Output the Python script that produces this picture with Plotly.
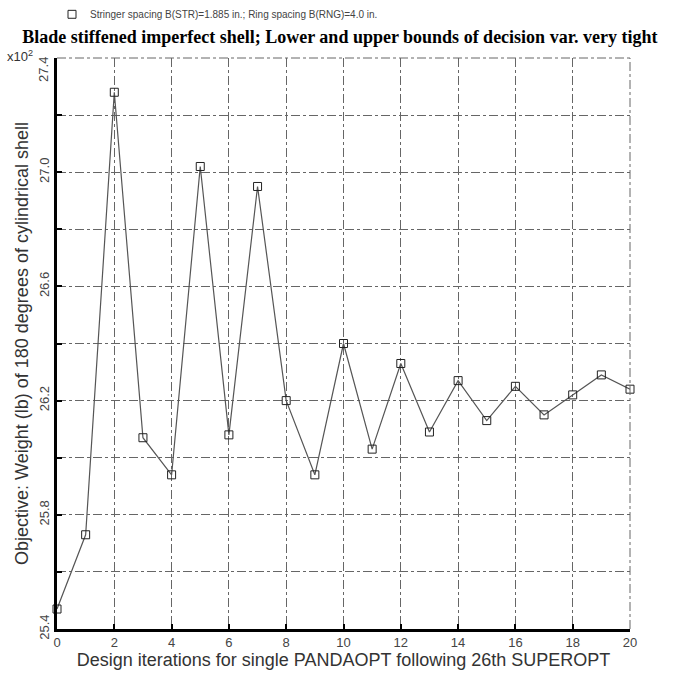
import plotly.graph_objects as go

iterations = list(range(21))
weights = [25.47, 25.73, 27.28, 26.07, 25.94, 27.02, 26.08, 26.95, 26.20, 25.94,
           26.40, 26.03, 26.33, 26.09, 26.27, 26.13, 26.25, 26.15, 26.22, 26.29, 26.24]
series_name = "Stringer spacing B(STR)=1.885 in.; Ring spacing B(RNG)=4.0 in."
title_text = "Blade stiffened imperfect shell; Lower and upper bounds of decision var. very tight"
x_title = "Design iterations for single PANDAOPT following 26th SUPEROPT"
y_title = "Objective: Weight (lb) of 180 degrees of cylindrical shell"
y_tickvals = [25.4, 25.6, 25.8, 26.0, 26.2, 26.4, 26.6, 26.8, 27.0, 27.2, 27.4]
y_ticktext = ["25.4", "", "25.8", "", "26.2", "", "26.6", "", "27.0", "", ""]
y_top_label = "27.4"
x_tickvals = [0, 2, 4, 6, 8, 10, 12, 14, 16, 18, 20]

fig = go.Figure()
fig.add_trace(go.Scatter(
    x=iterations, y=weights, mode="lines+markers", name=series_name, showlegend=False,
    line=dict(color="#555555", width=1.2), cliponaxis=False,
    marker=dict(symbol="square-open", size=8, color="#222222", line=dict(width=1)),
))

fig.update_layout(
    width=673, height=677,
    margin=dict(l=57, r=43, t=58, b=44),
    paper_bgcolor="white", plot_bgcolor="white",
    title=dict(text="<b>" + title_text + "</b>", x=0.505, xanchor="center",
               y=1 - 37 / 677, yanchor="middle",
               font=dict(family="Liberation Serif", size=18, color="black")),
    showlegend=False,
    font=dict(family="Liberation Sans", color="#333333"),
    shapes=[dict(type="line", xref="paper", yref="paper", x0=0, x1=1, y0=1, y1=1,
                 line=dict(color="#666666", width=1, dash="dashdot")),
            dict(type="line", xref="paper", yref="paper", x0=1, x1=1, y0=0, y1=1,
                 line=dict(color="#666666", width=1, dash="dashdot")),
            dict(type="rect", xref="paper", yref="paper",
                 x0=(68 - 57) / 573, x1=(76 - 57) / 573,
                 y0=1 + (58 - 18) / 575, y1=1 + (58 - 10) / 575,
                 line=dict(color="#222222", width=1))],
)

fig.update_xaxes(
    range=[0, 20], tickvals=x_tickvals, ticks="inside", ticklen=5, tickwidth=2, tickcolor="black",
    showline=True, linecolor="black", linewidth=2.5,
    showgrid=True, gridcolor="#666666", griddash="dashdot", gridwidth=1, zeroline=False,
    tickfont=dict(size=13, color="#444444"),
    title=dict(text=x_title, font=dict(size=18, color="#333333"), standoff=2),
)
fig.update_yaxes(
    range=[25.4, 27.4], tickvals=y_tickvals, ticktext=y_ticktext, tickangle=-90,
    ticks="inside", ticklen=5, tickwidth=2, tickcolor="black",
    showline=True, linecolor="black", linewidth=2.5,
    showgrid=True, gridcolor="#666666", griddash="dashdot", gridwidth=1, zeroline=False,
    tickfont=dict(size=13, color="#444444"),
    title=dict(text=y_title, font=dict(size=18, color="#333333"), standoff=4),
)

fig.add_annotation(text=y_top_label, xref="paper", yref="paper",
                   x=(44 - 57) / 573, y=1 - 12 / 575, xanchor="center", yanchor="middle",
                   textangle=-90, showarrow=False,
                   font=dict(family="Liberation Sans", size=13, color="#444444"))
fig.add_annotation(text=series_name, xref="paper", yref="paper",
                   x=(88 - 57) / 573, y=1 + (58 - 14) / 575, xanchor="left", yanchor="middle",
                   showarrow=False,
                   font=dict(family="Liberation Sans", size=10, color="#444444"))
fig.add_annotation(text="x10<sup>2</sup>", xref="paper", yref="paper",
                   x=(35 - 57) / 573, y=1.0 + 2 / 575, xanchor="right", yanchor="middle",
                   showarrow=False,
                   font=dict(family="Liberation Sans", size=13, color="#333333"))

fig.write_html("out.html")
